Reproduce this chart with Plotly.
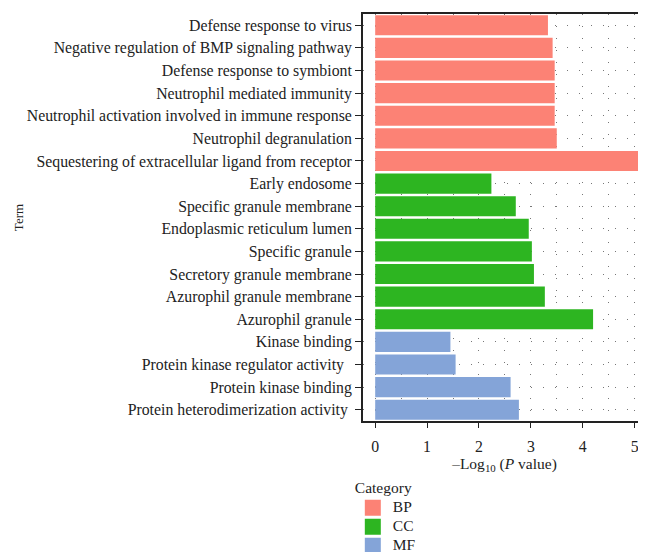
import plotly.graph_objects as go

terms_bp = ["Defense response to virus", "Negative regulation of BMP signaling pathway",
            "Defense response to symbiont", "Neutrophil mediated immunity",
            "Neutrophil activation involved in immune response", "Neutrophil degranulation",
            "Sequestering of extracellular ligand from receptor"]
vals_bp = [3.33, 3.42, 3.46, 3.46, 3.46, 3.50, 5.16]

terms_cc = ["Early endosome", "Specific granule membrane", "Endoplasmic reticulum lumen",
            "Specific granule", "Secretory granule membrane", "Azurophil granule membrane",
            "Azurophil granule"]
vals_cc = [2.24, 2.71, 2.96, 3.02, 3.06, 3.27, 4.20]

terms_mf = ["Kinase binding", "Protein kinase regulator activity\u00a0\u00a0",
            "Protein kinase binding", "Protein heterodimerization activity\u00a0"]
vals_mf = [1.45, 1.55, 2.61, 2.77]

categories = ["BP", "CC", "MF"]
colors = {"BP": "#FC8275", "CC": "#2DB521", "MF": "#84A4D8"}

FONT = "Liberation Serif"
fig = go.Figure()
for cat, terms, vals in [("BP", terms_bp, vals_bp), ("CC", terms_cc, vals_cc), ("MF", terms_mf, vals_mf)]:
    fig.add_trace(go.Bar(x=vals, y=terms, orientation="h", name=cat, showlegend=False,
                         marker=dict(color=colors[cat], line=dict(width=0))))

# legend entries (square swatches)
for cat in categories:
    fig.add_trace(go.Scatter(x=[None], y=[None], mode="markers", name=f'<span style="font-size:15.5px">{cat}</span>',
                             marker=dict(symbol="square", size=16, color=colors[cat]),
                             showlegend=True, hoverinfo="skip"))

all_terms = terms_bp + terms_cc + terms_mf

# the page body has an 8px margin, so the figure is shifted accordingly
fig.update_layout(
    width=638, height=544,
    margin=dict(l=355, r=0, t=6, b=131, autoexpand=False),
    paper_bgcolor="white", plot_bgcolor="white",
    font=dict(family=FONT, size=15.8, color="#222"),
    bargap=0.11,
    showlegend=True,
    legend=dict(title=dict(text="Category", font=dict(size=15.5)),
                x=-0.036, xanchor="left", y=-0.128, yanchor="top",
                font=dict(size=11), tracegroupgap=0, itemwidth=30,
                itemsizing="trace",
                bgcolor="rgba(0,0,0,0)"),
    xaxis=dict(range=[-0.235, 5.22], tickvals=[0, 1, 2, 3, 4, 5], automargin=False,
               showline=True, linecolor="#222", linewidth=2, mirror=True,
               ticks="outside", ticklen=5, tickcolor="#222", ticklabelstandoff=5,
               showgrid=True, gridcolor="#777", griddash="1px,11px", gridwidth=1,
               minor=dict(dtick=0.5, showgrid=True, gridcolor="#777", griddash="1px,11px"),
               zeroline=False,
               title=dict(text="\u2013Log<sub>10</sub> (<i>P</i> value)", standoff=3,
                          font=dict(size=15.5))),
    yaxis=dict(categoryorder="array", categoryarray=all_terms, autorange="reversed",
               automargin=False,
               showline=True, linecolor="#222", linewidth=2,
               ticks="outside", ticklen=6, tickcolor="#222",
               showgrid=True, gridcolor="#777", griddash="1px,11px",
               title=dict(text="Term", font=dict(size=13), standoff=0)),
)

fig.write_html("out.html")
